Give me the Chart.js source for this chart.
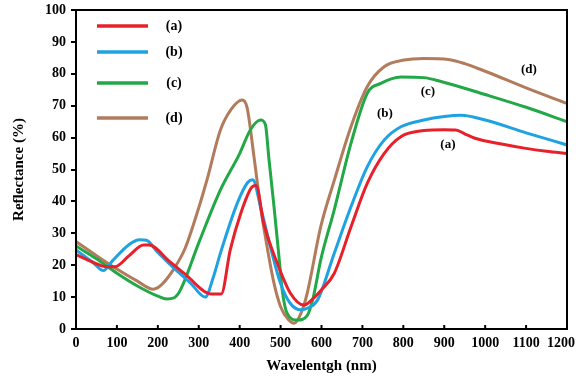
<!DOCTYPE html>
<html>
<head>
<meta charset="utf-8">
<script src="https://cdn.jsdelivr.net/npm/chart.js@4.4.0/dist/chart.umd.min.js"></script>
<style>
	html, body { margin: 0; padding: 0; background: #fff; }
	#wrap { width: 576px; height: 380px; }
</style>
</head>
<body>
<div id="wrap"><canvas id="mycanvas" width="576" height="380"></canvas></div>
<script>
// wavelength (nm) / reflectance (%)
var aX = [0, 40, 75, 95, 130, 165, 178, 230, 270, 330, 355, 377, 402, 430, 440, 459, 492, 524, 557, 575, 600, 631, 672, 712, 753, 794, 850, 900, 928, 950, 975, 1040, 1096, 1150, 1200];
var aY = [23.3, 21, 19.5, 19.5, 23, 26.3, 26.3, 21, 16.8, 11, 11, 24.8, 36, 44.5, 45, 33, 20.6, 11.2, 7.5, 9, 12.3, 17.4, 32, 45.7, 55, 60.3, 62.2, 62.5, 62.4, 61.2, 59.8, 58, 56.7, 55.7, 55];

var bX = [0, 40, 67, 90, 130, 155, 172, 200, 240, 280, 316, 335, 353, 394, 420, 432, 451, 475, 500, 524, 550, 565, 590, 631, 672, 712, 753, 794, 850, 900, 941, 1000, 1100, 1200];
var bY = [24.8, 21, 18.3, 21.5, 26.5, 28, 27.8, 24, 19, 14.4, 10, 16, 23.8, 39.4, 46, 46.8, 38.3, 25.8, 14.3, 8, 6, 6.5, 9, 23.7, 38.3, 50.9, 59.2, 63.4, 65.5, 66.6, 67, 65.5, 61.5, 57.7];

var cX = [0, 50, 100, 150, 200, 222, 240, 255, 300, 353, 400, 426, 451, 463, 471, 484, 496, 504, 516, 541, 565, 580, 598, 631, 672, 712, 745, 794, 850, 892, 1000, 1100, 1200];
var cY = [26, 22, 17.5, 13.5, 10.3, 9.4, 9.8, 12.2, 27, 43.6, 55, 62.4, 65.5, 64, 54, 38.3, 22.7, 12.2, 4.9, 2.8, 4.2, 10, 21.6, 37.3, 58.2, 73.9, 77, 79, 78.8, 77.6, 73.5, 69.5, 65];

var dX = [0, 50, 100, 150, 189, 210, 240, 267, 300, 320, 353, 380, 406, 418, 435, 451, 467, 484, 500, 520, 533, 550, 565, 598, 631, 672, 712, 753, 802, 850, 910, 950, 1000, 1100, 1200];
var dY = [27.4, 23, 18.8, 15, 12.5, 14, 19, 25.4, 38, 46.7, 62.4, 69, 71.8, 69.5, 54, 38.3, 25.8, 14.3, 7, 2.8, 1.8, 5, 11.2, 32, 46.5, 63.4, 76, 82.2, 84.3, 84.8, 84.5, 83.2, 80.8, 75.6, 70.7];

var names = ['(a)', '(b)', '(c)', '(d)'];
var colors = ['#e8202a', '#1ea2e2', '#22a846', '#b27b5c'];
var xTicks = [0, 100, 200, 300, 400, 500, 600, 700, 800, 900, 1000, 1100, 1200];
var yTicks = [0, 10, 20, 30, 40, 50, 60, 70, 80, 90, 100];
// label spots next to the curves (nm, %)
var tagX = [909, 755, 860, 1107];
var tagY = [57.7, 67.4, 74.3, 81.2];

var FONT = '"Liberation Serif", "Times New Roman", serif';

function pts(xs, ys) {
	var out = [];
	for (var i = 0; i < xs.length; i++) out.push({x: xs[i], y: ys[i]});
	return out;
}

var series = [pts(aX, aY), pts(bX, bY), pts(cX, cY), pts(dX, dY)];
var datasets = [];
for (var i = 0; i < series.length; i++) {
	datasets.push({
		label: names[i],
		data: series[i],
		borderColor: colors[i],
		backgroundColor: colors[i],
		borderWidth: 3,
		pointRadius: 0,
		cubicInterpolationMode: 'monotone',
		fill: false
	});
}

var lastTick = xTicks[xTicks.length - 1];

// frame, inside x ticks, legend and curve tags
var extras = {
	id: 'extras',
	afterDraw: function(chart) {
		var ctx = chart.ctx;
		var a = chart.chartArea;
		var xs = chart.scales.x, ys = chart.scales.y;
		ctx.save();
		ctx.strokeStyle = '#000';
		ctx.lineWidth = 2;
		ctx.strokeRect(a.left, a.top, a.right - a.left, a.bottom - a.top);
		for (var i = 1; i < xTicks.length - 1; i++) {
			var px = xs.getPixelForValue(xTicks[i]);
			ctx.beginPath();
			ctx.moveTo(px, a.bottom);
			ctx.lineTo(px, a.bottom - 4);
			ctx.stroke();
		}
		ctx.fillStyle = '#000';
		// last x label sits a bit inward so it stays on the canvas
		ctx.font = 'bold 14px ' + FONT;
		ctx.textAlign = 'right';
		ctx.textBaseline = 'middle';
		ctx.fillText(String(lastTick), chart.width - 1, a.bottom + 14);
		// legend
		var ly = [16, 42, 73, 108];
		ctx.textAlign = 'center';
		for (var j = 0; j < 4; j++) {
			ctx.strokeStyle = colors[j];
			ctx.lineWidth = 3.5;
			ctx.beginPath();
			ctx.moveTo(a.left + 21, a.top + ly[j]);
			ctx.lineTo(a.left + 72, a.top + ly[j]);
			ctx.stroke();
			ctx.fillText(names[j], a.left + 98, a.top + ly[j]);
		}
		ctx.font = 'bold 13px ' + FONT;
		for (var k = 0; k < 4; k++) {
			ctx.fillText(names[k], xs.getPixelForValue(tagX[k]), ys.getPixelForValue(tagY[k]));
		}
		ctx.restore();
	}
};

var ctx = document.getElementById('mycanvas');
var chart = new Chart(ctx, {
	type: 'line',
	data: {datasets: datasets},
	plugins: [extras],
	options: {
		responsive: false,
		animation: false,
		layout: {padding: {top: 10, right: 9, left: 0, bottom: 0}},
		plugins: {legend: {display: false}, tooltip: {enabled: false}},
		scales: {
			x: {
				type: 'linear',
				min: 0,
				max: 1200,
				afterBuildTicks: function(s) { s.ticks = xTicks.map(function(v) { return {value: v}; }); },
				afterFit: function(s) { s.height = 51; s.paddingRight = 0; s.paddingLeft = 0; },
				grid: {display: false, drawTicks: false},
				border: {display: false},
				ticks: {
					color: '#000', padding: 6, maxRotation: 0, autoSkip: false,
					font: {family: FONT, weight: 'bold', size: 14},
					callback: function(v) { return v === lastTick ? '' : String(v); }
				},
				title: {display: true, text: 'Wavelentgh (nm)', color: '#000', padding: {top: 4, bottom: 5}, font: {family: FONT, weight: 'bold', size: 15}}
			},
			y: {
				min: 0,
				max: 100,
				afterBuildTicks: function(s) { s.ticks = yTicks.map(function(v) { return {value: v}; }); },
				afterFit: function(s) { s.width = 76; s.paddingTop = 0; s.paddingBottom = 0; },
				grid: {display: true, drawOnChartArea: false, tickLength: 5, color: '#000', lineWidth: 2},
				border: {display: false},
				ticks: {color: '#000', padding: 5, font: {family: FONT, weight: 'bold', size: 14}},
				title: {display: true, text: 'Reflectance (%)', color: '#000', padding: {top: 10, bottom: 4}, font: {family: FONT, weight: 'bold', size: 15}}
			}
		}
	}
});
</script>
</body>
</html>
